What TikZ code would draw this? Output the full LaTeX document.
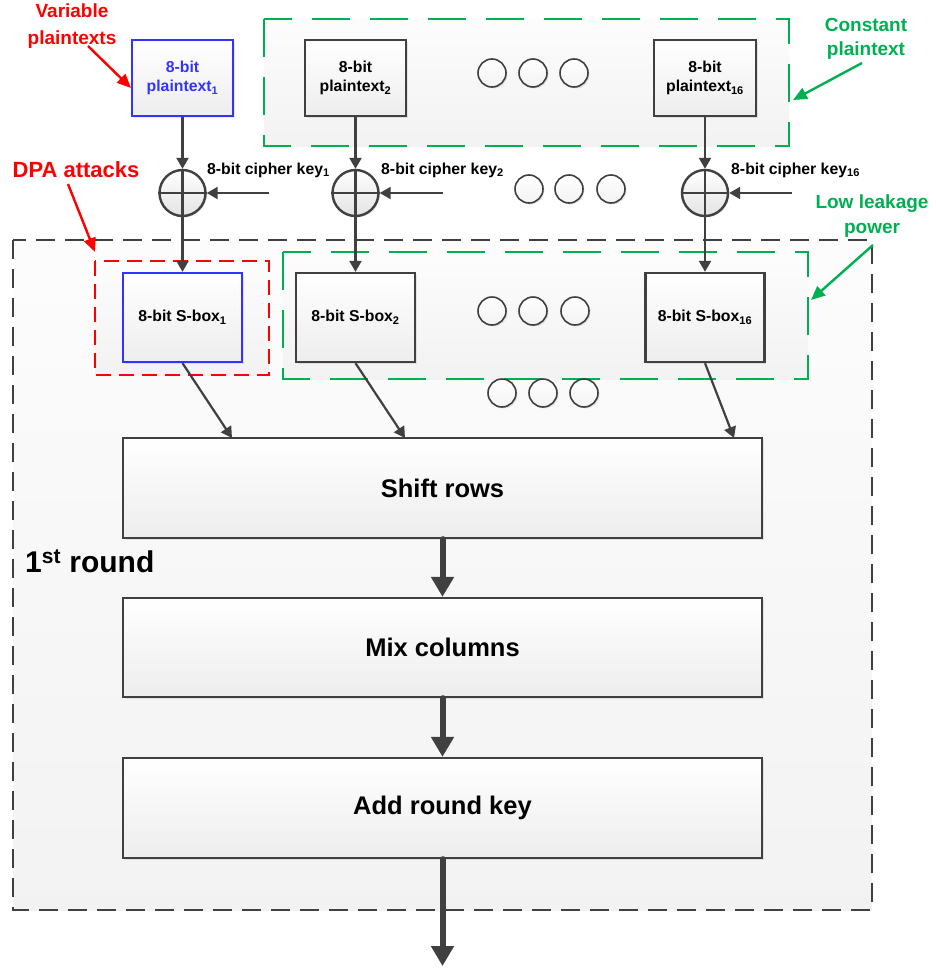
\documentclass[tikz,border=0pt]{standalone}
\usepackage{fontspec}
\setmainfont{Liberation Sans}
\usetikzlibrary{arrows.meta,shadows}
\definecolor{lc}{HTML}{404040}
\definecolor{myblue}{HTML}{3333FF}
\definecolor{mygreen}{HTML}{00B050}
\definecolor{myred}{HTML}{FF0000}
\begin{document}
\begin{tikzpicture}[x=1pt,y=-1pt,
  shd/.style={drop shadow={shadow xshift=1.5pt,shadow yshift=-1.5pt,opacity=0.18}},
  blk/.style={draw=lc, line width=2.3pt, top color=white, bottom color=gray!14,
    inner sep=0pt, align=center, shd, font=\bfseries\fontsize{15.8}{19.5}\selectfont},
  bigblk/.style={blk, minimum width=639pt, font=\bfseries\fontsize{25.5}{30}\selectfont},
  region/.style={line width=2.2pt, dash pattern=on 19pt off 10pt, top color=gray!2, bottom color=gray!10},
  xorc/.style={circle, draw=lc, line width=2.4pt, minimum size=46pt, inner sep=0pt,
    top color=white, bottom color=gray!22, shd},
  dotc/.style={circle, draw=lc, line width=1.6pt, minimum size=28pt, inner sep=0pt,
    top color=white, bottom color=gray!10, shd},
  arr/.style={draw=lc, line width=2.2pt, -{Triangle[length=11pt,width=12pt]}},
  thick arr/.style={draw=lc, line width=6pt, line cap=round, -{Triangle[length=20pt,width=22pt]}},
  ann/.style={line width=2.4pt, -{Triangle[length=14pt,width=12pt]}},
  keylbl/.style={anchor=west, inner sep=0pt, font=\bfseries\fontsize{15.8}{18}\selectfont}
]
\useasboundingbox (0,0) rectangle (935,972);

% regions
\path[region, draw=lc] (13,240) rectangle (872,910);
\path[region, draw=mygreen, dash pattern=on 38pt off 20pt, line width=2.6pt] (264,19) rectangle (789,146);
\path[region, draw=myred, dash pattern=on 15pt off 8pt, line width=2.6pt] (95,261) rectangle (269,375);
\path[region, draw=mygreen, dash pattern=on 38pt off 20pt, line width=2.6pt] (283,252) rectangle (808,379);

% plaintext boxes
\node[blk, draw=myblue, text=myblue, minimum width=101pt, minimum height=76pt] (p1) at (182.5,78) {8-bit\\plaintext\textsubscript{1}};
\node[blk, minimum width=101pt, minimum height=76pt] (p2) at (355.5,78) {8-bit\\plaintext\textsubscript{2}};
\node[blk, minimum width=102pt, minimum height=76pt] (p16) at (705,78) {8-bit\\plaintext\textsubscript{16}};

% xor
\foreach \n/\x in {x1/182.5, x2/355.5, x16/705}{
  \node[xorc] (\n) at (\x,193) {};
  \draw[lc, line width=2.2pt] (\n.north) -- (\n.south) (\n.west) -- (\n.east);
}

% sboxes
\node[blk, draw=myblue, minimum width=119pt, minimum height=89pt] (s1) at (182.5,317.5) {8-bit S-box\textsubscript{1}};
\node[blk, minimum width=119pt, minimum height=89pt] (s2) at (355.5,317.5) {8-bit S-box\textsubscript{2}};
\node[blk, minimum width=119pt, minimum height=89pt] (s16) at (705,317.5) {8-bit S-box\textsubscript{16}};

% round blocks
\node[bigblk, minimum height=100pt] (sr) at (442.5,488) {Shift rows};
\node[bigblk, minimum height=99pt] (mc) at (442.5,647.5) {Mix columns};
\node[bigblk, minimum height=100pt] (ak) at (442.5,808) {Add round key};

% dots
\foreach \i/\x/\y in {a1/492/73, a2/533/73, a3/574/73,
                      b1/529/189, b2/569/189, b3/611/189,
                      c1/492/311, c2/533/311, c3/575/311,
                      d1/502/393, d2/543/393, d3/584/393}{
  \node[dotc] (\i) at (\x,\y) {};
}

% key labels
\node[keylbl] (kl1) at (207,170) {8-bit cipher key\textsubscript{1}};
\node[keylbl] (kl2) at (381,170) {8-bit cipher key\textsubscript{2}};
\node[keylbl] (kl16) at (731,170) {8-bit cipher key\textsubscript{16}};

\coordinate (k1) at (269,193);
\coordinate (k2) at (443,193);
\coordinate (k16) at (792,193);

% connectors
\draw[arr] (p1.south) -- (x1.north);
\draw[arr] (p2.south) -- (x2.north);
\draw[arr] (p16.south) -- (x16.north);
\draw[arr] (k1) -- (x1.east);
\draw[arr] (k2) -- (x2.east);
\draw[arr] (k16) -- (x16.east);
\draw[arr] (x1.south) -- (s1.north);
\draw[arr] (x2.south) -- (s2.north);
\draw[arr] (x16.south) -- (s16.north);

\coordinate (t1) at (232,438);
\coordinate (t2) at (405,438);
\coordinate (t16) at (734,438);
\draw[arr] (s1.south) -- (t1);
\draw[arr] (s2.south) -- (t2);
\draw[arr] (s16.south) -- (t16);

\coordinate (out) at (442.5,966);
\draw[thick arr] (sr.south) -- (mc.north);
\draw[thick arr] (mc.south) -- (ak.north);
\draw[thick arr] (ak.south) -- (out);

% round label
\node[anchor=west, inner sep=0pt, font=\bfseries\fontsize{30}{34}\selectfont] (rl) at (25,561) {1\textsuperscript{st} round};

% annotations
\node[text=myred, align=center, inner sep=0pt, font=\bfseries\fontsize{19}{27}\selectfont] (vp) at (72,26) {Variable\\plaintexts};
\coordinate (vpa) at (88,46);
\coordinate (vpb) at (131,88);
\draw[ann, myred] (vpa) -- (vpb);

\node[text=myred, inner sep=0pt, font=\bfseries\fontsize{22}{26}\selectfont] (dpa) at (76,170) {DPA attacks};
\coordinate (dpaa) at (68,184);
\coordinate (dpab) at (95,252);
\draw[ann, myred] (dpaa) -- (dpab);

\node[text=mygreen, align=center, inner sep=0pt, font=\bfseries\fontsize{19}{23.5}\selectfont] (cp) at (866,39) {Constant\\plaintext};
\coordinate (cpa) at (862,63);
\coordinate (cpb) at (793,100);
\draw[ann, mygreen] (cpa) -- (cpb);

\node[text=mygreen, align=center, inner sep=0pt, font=\bfseries\fontsize{19}{24.5}\selectfont] (llp) at (872,216) {Low leakage\\power};
\coordinate (llpa) at (873,245);
\coordinate (llpb) at (811,300);
\draw[ann, mygreen] (llpa) -- (llpb);
\end{tikzpicture}
\end{document}
